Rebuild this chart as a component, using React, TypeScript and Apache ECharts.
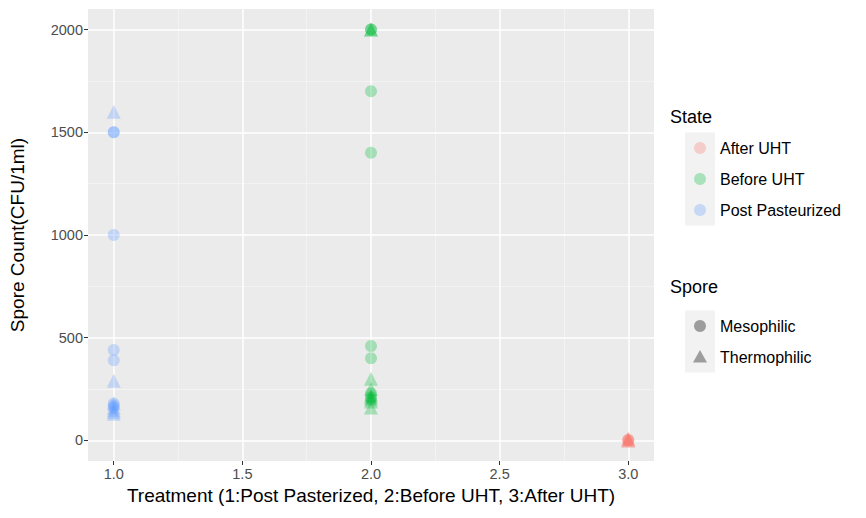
import React, { useEffect, useRef } from "react";
import * as echarts from "echarts";

// Treatment position of each state on the x axis
const stateNames = ["After UHT", "Before UHT", "Post Pasteurized"];
const stateTreatment = [3, 2, 1];
const stateColors = ["#F8766D", "#00BA38", "#619CFF"];
const sporeNames = ["Mesophilic", "Thermophilic"];

// Spore counts (CFU/1ml)
const afterMeso = [0, 0, 5];
const afterThermo = [10, 5, 0, 0];
const beforeMeso = [2000, 2000, 1700, 1400, 460, 400, 230, 210, 200];
const beforeThermo = [2000, 2000, 300, 250, 220, 210, 200, 190, 160];
const postMeso = [1500, 1500, 1000, 440, 390, 180, 170, 160];
const postThermo = [1600, 290, 180, 160, 150, 140, 130];

const xTicks = [1.0, 1.5, 2.0, 2.5, 3.0];
const xMinor = [1.25, 1.75, 2.25, 2.75];
const yTicks = [0, 500, 1000, 1500, 2000];
const yMinor = [250, 750, 1250, 1750];

const FONT = "Liberation Sans, Arial, sans-serif";

export default function App() {
  const ref = useRef<HTMLDivElement>(null);
  useEffect(() => {
    if (!ref.current) return;
    const chart = echarts.init(ref.current, null, { renderer: "svg" });
    const groups = [
      [afterMeso, afterThermo],
      [beforeMeso, beforeThermo],
      [postMeso, postThermo],
    ];
    const minorStyle = { color: "#F5F5F5", width: 0.8, type: "solid" };
    const majorStyle = { color: "#FFFFFF", width: 1.5, type: "solid" };
    const series: any[] = [
      {
        type: "scatter",
        name: "grid",
        data: [],
        z: 1,
        silent: true,
        markLine: {
          z: 1,
          silent: true,
          symbol: "none",
          label: { show: false },
          animation: false,
          data: [
            ...xMinor.map((v) => ({ xAxis: v, lineStyle: minorStyle })),
            ...yMinor.map((v) => ({ yAxis: v, lineStyle: minorStyle })),
            ...xTicks.map((v) => ({ xAxis: v, lineStyle: majorStyle })),
            ...yTicks.map((v) => ({ yAxis: v, lineStyle: majorStyle })),
          ],
        },
      },
    ];
    groups.forEach((g, si) => {
      g.forEach((vals, pi) => {
        series.push({
          type: "scatter",
          name: stateNames[si] + " / " + sporeNames[pi],
          symbol: pi === 0 ? "circle" : "triangle",
          symbolSize: pi === 0 ? 12 : 14,
          itemStyle: { color: stateColors[si], opacity: 0.3 },
          z: 5,
          data: vals.map((v) => [stateTreatment[si], v]),
        });
      });
    });

    const legendX = 670;
    const keyX = 685;
    const keyW = 30;
    const keyH = 31;
    const labelX = 720;
    const graphics: any[] = [];
    const addLegend = (title: string, titleY: number, keysTop: number, n: number, drawKey: (i: number, cx: number, cy: number) => any, labels: string[]) => {
      graphics.push({
        type: "text",
        x: legendX,
        y: titleY,
        style: { text: title, font: "18px " + FONT, fill: "#000", verticalAlign: "middle", align: "left" },
      });
      graphics.push({
        type: "rect",
        shape: { x: keyX, y: keysTop, width: keyW, height: keyH * n },
        style: { fill: "#F2F2F2" },
      });
      for (let i = 0; i < n; i++) {
        const cy = keysTop + keyH * i + keyH / 2;
        const cx = keyX + keyW / 2;
        graphics.push(drawKey(i, cx, cy));
        graphics.push({
          type: "text",
          x: labelX,
          y: cy,
          style: { text: labels[i], font: "16px " + FONT, fill: "#000", verticalAlign: "middle", align: "left" },
        });
      }
    };
    addLegend("State", 117, 132.5, 3, (i, cx, cy) => ({
      type: "circle",
      shape: { cx, cy, r: 6 },
      style: { fill: stateColors[i], opacity: 0.3 },
    }), stateNames);
    addLegend("Spore", 287, 310.5, 2, (i, cx, cy) =>
      i === 0
        ? { type: "circle", shape: { cx, cy, r: 6 }, style: { fill: "rgba(0,0,0,0.35)" } }
        : {
            type: "polygon",
            shape: { points: [[cx, cy - 7], [cx + 7, cy + 5.5], [cx - 7, cy + 5.5]] },
            style: { fill: "rgba(0,0,0,0.35)" },
          }, sporeNames);

    chart.setOption({
      animation: false,
      textStyle: { fontFamily: FONT },
      grid: {
        left: 87,
        right: 212,
        top: 9,
        bottom: 57,
        show: true,
        backgroundColor: "#EBEBEB",
        borderWidth: 0,
      },
      xAxis: {
        type: "value",
        min: 0.9,
        max: 3.1,
        name: "Treatment (1:Post Pasterized, 2:Before UHT, 3:After UHT)",
        nameLocation: "middle",
        nameGap: 25,
        nameTextStyle: { color: "#000", fontSize: 19, fontFamily: FONT },
        axisLine: { show: false, onZero: false },
        axisTick: { show: true, length: 4, customValues: xTicks, lineStyle: { color: "#333333", width: 1 } },
        axisLabel: {
          customValues: xTicks,
          color: "#4D4D4D",
          fontSize: 14.5,
          margin: 5,
          formatter: (v: number) => v.toFixed(1),
        },
        splitLine: { show: false },
      },
      yAxis: {
        type: "value",
        min: -100,
        max: 2100,
        name: "Spore Count(CFU/1ml)",
        nameLocation: "middle",
        nameRotate: 90,
        nameGap: 61,
        nameTextStyle: { color: "#000", fontSize: 19, fontFamily: FONT },
        axisLine: { show: false, onZero: false },
        axisTick: { show: true, length: 4, customValues: yTicks, lineStyle: { color: "#333333", width: 1 } },
        axisLabel: {
          customValues: yTicks,
          color: "#4D4D4D",
          fontSize: 14.5,
          margin: 5,
          formatter: (v: number) => String(v),
        },
        splitLine: { show: false },
      },
      series,
      graphic: graphics,
    });
    return () => chart.dispose();
  }, []);
  return <div ref={ref} style={{ width: 866, height: 518, position: "absolute", left: 0, top: 0 }} />;
}
